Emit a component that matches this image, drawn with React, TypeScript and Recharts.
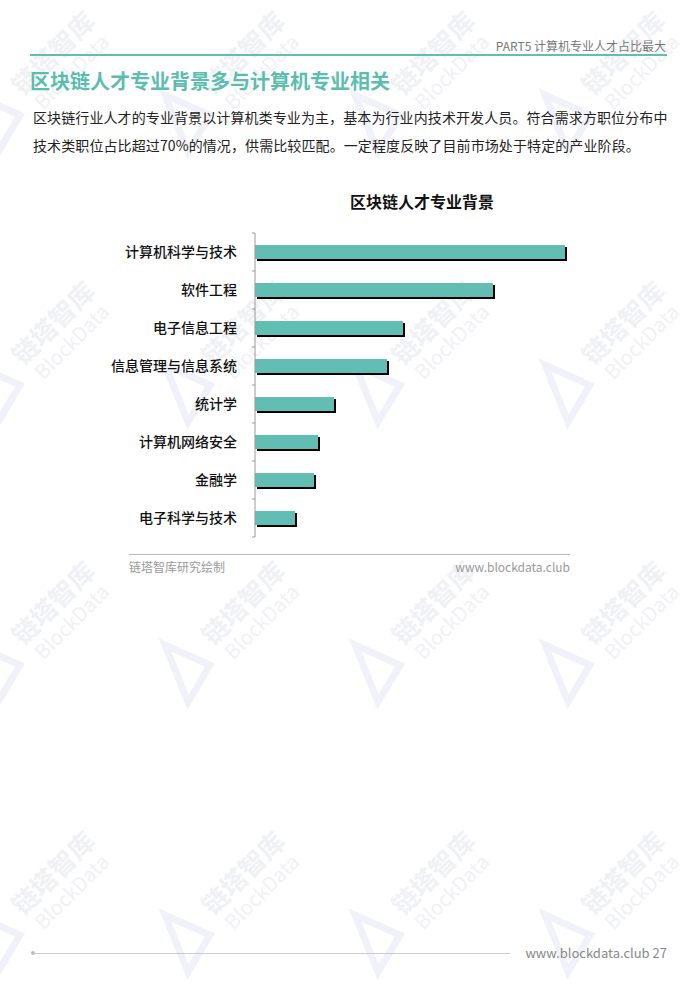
import React from 'react';
import { BarChart, Bar, XAxis, YAxis } from 'recharts';

const majors = ['计算机科学与技术', '软件工程', '电子信息工程', '信息管理与信息系统', '统计学', '计算机网络安全', '金融学', '电子科学与技术'];
const shares = [31.0, 23.8, 14.8, 13.2, 7.9, 6.3, 5.9, 4.0];

const data = majors.map((name, i) => ({ name, value: shares[i] }));

const TEAL = '#62BDB2';
const FONT = '"Noto Sans CJK SC", "Noto Sans", sans-serif';

const ShadowBar = (props: any) => {
  const { x, y, width, height } = props;
  return (
    <g>
      <rect x={x + 2} y={y + 2} width={width} height={height} fill="#000" />
      <rect x={x} y={y} width={width} height={height} fill={TEAL} />
    </g>
  );
};

const MajorTick = (props: any) => {
  const { x, y, payload, index } = props;
  const axisX = x + 18;
  const half = 19;
  return (
    <g>
      <line x1={axisX - 3} x2={axisX} y1={y - half} y2={y - half} stroke="#999" />
      {index === majors.length - 1 && (
        <line x1={axisX - 3} x2={axisX} y1={y + half} y2={y + half} stroke="#999" />
      )}
      <text x={x} y={y} dy={5} textAnchor="end" fontSize={14} fontWeight={500} fill="#111" fontFamily={FONT}>
        {payload.value}
      </text>
    </g>
  );
};

const marks = [
  [60, 60], [250, 60], [440, 60], [630, 60],
  [60, 330], [250, 330], [440, 330], [630, 330],
  [60, 610], [250, 610], [440, 610], [630, 610],
  [60, 880], [250, 880], [440, 880], [630, 880],
];

const Watermarks = () => (
  <svg width={700} height={990} style={{ position: 'absolute', left: 0, top: 0, pointerEvents: 'none' }}>
    {marks.map(([cx, cy], i) => (
      <g key={i}>
        <path
          d={`M${cx - 85} ${cy + 35} L${cx - 40} ${cy + 55} L${cx - 62} ${cy + 92} Z`}
          fill="none"
          stroke="#f1f2f9"
          strokeWidth={7}
        />
        <g transform={`translate(${cx},${cy}) rotate(-45)`} fontFamily={FONT} fill="#f0f1f5">
          <text x={0} y={0} fontSize={26} fontWeight={700} textAnchor="middle">链塔智库</text>
          <text x={0} y={24} fontSize={20} textAnchor="middle">BlockData</text>
        </g>
      </g>
    ))}
  </svg>
);

const App: React.FC = () => {
  return (
    <div style={{ position: 'absolute', left: 0, top: 0, width: 700, height: 990, background: '#fff', fontFamily: FONT, overflow: 'hidden' }}>
      <Watermarks />
      <div style={{ position: 'absolute', right: 34, top: 37, fontSize: 12, color: '#777' }}>
        PART5 计算机专业人才占比最大
      </div>
      <div style={{ position: 'absolute', left: 30, top: 54, width: 637, height: 2, background: TEAL }} />
      <div style={{ position: 'absolute', left: 30, top: 66, fontSize: 20, fontWeight: 700, color: '#5bbdae' }}>
        区块链人才专业背景多与计算机专业相关
      </div>
      <div style={{ position: 'absolute', left: 33, top: 103, width: 650, fontSize: 14, letterSpacing: 0.1, lineHeight: '28px', color: '#222' }}>
        区块链行业人才的专业背景以计算机类专业为主，基本为行业内技术开发人员。符合需求方职位分布中<br />
        技术类职位占比超过70%的情况，供需比较匹配。一定程度反映了目前市场处于特定的产业阶段。
      </div>
      <div style={{ position: 'absolute', left: 272, top: 189, width: 300, textAlign: 'center', fontSize: 16, fontWeight: 700, color: '#111' }}>
        区块链人才专业背景
      </div>
      <div style={{ position: 'absolute', left: 0, top: 0 }}>
        <BarChart
          width={700}
          height={560}
          layout="vertical"
          data={data}
          margin={{ top: 233, right: 125, bottom: 23, left: 0 }}
        >
          <XAxis type="number" domain={[0, 32]} hide />
          <YAxis
            type="category"
            dataKey="name"
            width={255}
            axisLine={{ stroke: '#999' }}
            tickLine={false}
            tickSize={6}
            tickMargin={12}
            tick={<MajorTick />}
            interval={0}
          />
          <Bar dataKey="value" barSize={14} shape={<ShadowBar />} isAnimationActive={false} />
        </BarChart>
      </div>
      <div style={{ position: 'absolute', left: 129, top: 554, width: 441, height: 1, background: '#bbb' }} />
      <div style={{ position: 'absolute', left: 129, top: 558, fontSize: 12, color: '#999' }}>链塔智库研究绘制</div>
      <div style={{ position: 'absolute', right: 130, top: 558, fontSize: 12, color: '#999' }}>www.blockdata.club</div>
      <div style={{ position: 'absolute', left: 31, top: 951, width: 4, height: 4, borderRadius: 2, background: '#bbb' }} />
      <div style={{ position: 'absolute', left: 33, top: 953, width: 477, height: 1, background: '#ccc' }} />
      <div style={{ position: 'absolute', right: 33, top: 943, fontSize: 13, color: '#888' }}>www.blockdata.club 27</div>
    </div>
  );
};

export default App;
